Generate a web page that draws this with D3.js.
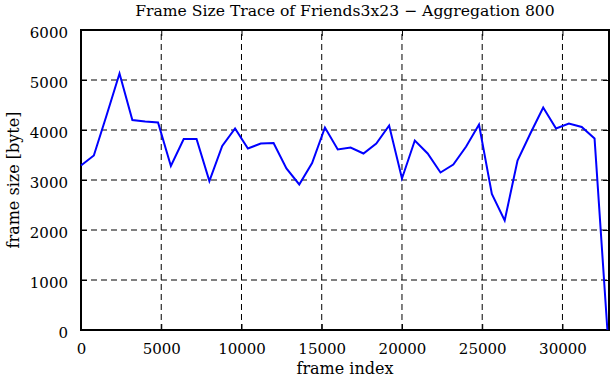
<!DOCTYPE html>
<html>
<head>
<meta charset="utf-8">
<script src="https://cdn.jsdelivr.net/npm/d3@7"></script>
<style>
  body { margin: 0; background: #fff; }
  svg { display: block; font-family: "DejaVu Serif", serif; }
</style>
</head>
<body>
<div id="chart"></div>
<script>
// aggregated frame sizes, one value every 800 frames
const aggregation = 800;
const frameSizes = [
  3290, 3490, 4300, 5130, 4200, 4170, 4150, 3280, 3820, 3820,
  2980, 3680, 4030, 3630, 3730, 3740, 3230, 2910, 3340, 4050,
  3610, 3650, 3530, 3730, 4090, 3030, 3790, 3530, 3150, 3310,
  3670, 4110, 2720, 2190, 3390, 3930, 4450, 4030, 4130, 4060,
  3830, 0
];
const xTicks = [0, 5000, 10000, 15000, 20000, 25000, 30000];
const yTicks = [0, 1000, 2000, 3000, 4000, 5000, 6000];

const width = 611, height = 380;
const margin = { top: 30, right: 2, bottom: 50, left: 81 };
const fontFamily = '"DejaVu Serif", serif';

const svg = d3.select('#chart')
  .append('svg')
  .attr('width', width)
  .attr('height', height);

const x = d3.scaleLinear()
  .domain([0, 32900])
  .range([margin.left, width - margin.right]);

const y = d3.scaleLinear()
  .domain([0, 6000])
  .range([height - margin.bottom, margin.top]);

const data = frameSizes.map((v, i) => ({ frame: i * aggregation, size: v }));

// dashed grid
svg.append('g')
  .selectAll('line')
  .data(yTicks.slice(1, -1))
  .join('line')
  .attr('x1', x.range()[0]).attr('x2', x.range()[1])
  .attr('y1', (d) => y(d)).attr('y2', (d) => y(d))
  .attr('stroke', '#000').attr('stroke-width', 1)
  .attr('stroke-dasharray', '6,4');

svg.append('g')
  .selectAll('line')
  .data(xTicks.slice(1))
  .join('line')
  .attr('x1', (d) => x(d)).attr('x2', (d) => x(d))
  .attr('y1', y.range()[0]).attr('y2', y.range()[1])
  .attr('stroke', '#000').attr('stroke-width', 1)
  .attr('stroke-dasharray', '6,4');

// inward ticks on all four sides
const tickLen = 6;
const xAxisB = d3.axisBottom(x).tickValues(xTicks).tickSize(-tickLen).tickPadding(13).tickFormat(d3.format('d'));
const xAxisT = d3.axisTop(x).tickValues(xTicks).tickSize(-tickLen).tickFormat('');
const yAxisL = d3.axisLeft(y).tickValues(yTicks).tickSize(-tickLen).tickPadding(13).tickFormat(d3.format('d'));
const yAxisR = d3.axisRight(y).tickValues(yTicks).tickSize(-tickLen).tickFormat('');

function styleAxis(g) {
  g.attr('font-family', fontFamily).attr('font-size', 15);
  g.select('.domain').remove();
  g.selectAll('.tick line').attr('stroke', '#000').attr('stroke-width', 1);
  g.selectAll('.tick text').attr('fill', '#000');
}

svg.append('g').attr('transform', `translate(0,${y(0)})`).call(xAxisB).call(styleAxis);
svg.append('g').attr('transform', `translate(0,${y(6000)})`).call(xAxisT).call(styleAxis);
svg.append('g').attr('transform', `translate(${x(0)},0)`).call(yAxisL).call(styleAxis)
  .selectAll('.tick text').attr('dy', '0.5em');
svg.append('g').attr('transform', `translate(${x.range()[1]},0)`).call(yAxisR).call(styleAxis);

// frame border
svg.append('rect')
  .attr('x', x.range()[0]).attr('y', y.range()[1])
  .attr('width', x.range()[1] - x.range()[0])
  .attr('height', y.range()[0] - y.range()[1])
  .attr('fill', 'none').attr('stroke', '#000').attr('stroke-width', 2);

// the trace
const line = d3.line()
  .x((d) => x(d.frame))
  .y((d) => y(d.size));

svg.append('path')
  .datum(data)
  .attr('d', line)
  .attr('fill', 'none')
  .attr('stroke', '#0000ff')
  .attr('stroke-width', 2)
  .attr('stroke-linejoin', 'miter');

// title and axis labels
const midX = (x.range()[0] + x.range()[1]) / 2;

svg.append('text')
  .attr('x', midX)
  .attr('y', 16)
  .attr('text-anchor', 'middle')
  .style('font-size', '15.6px')
  .text('Frame Size Trace of Friends3x23 \u2212 Aggregation 800');

svg.append('text')
  .attr('x', midX)
  .attr('y', 374)
  .attr('text-anchor', 'middle')
  .style('font-size', '16px')
  .text('frame index');

svg.append('text')
  .attr('transform', `translate(19,${(y.range()[0] + y.range()[1]) / 2}) rotate(-90)`)
  .attr('text-anchor', 'middle')
  .style('font-size', '16px')
  .text('frame size [byte]');
</script>
</body>
</html>
